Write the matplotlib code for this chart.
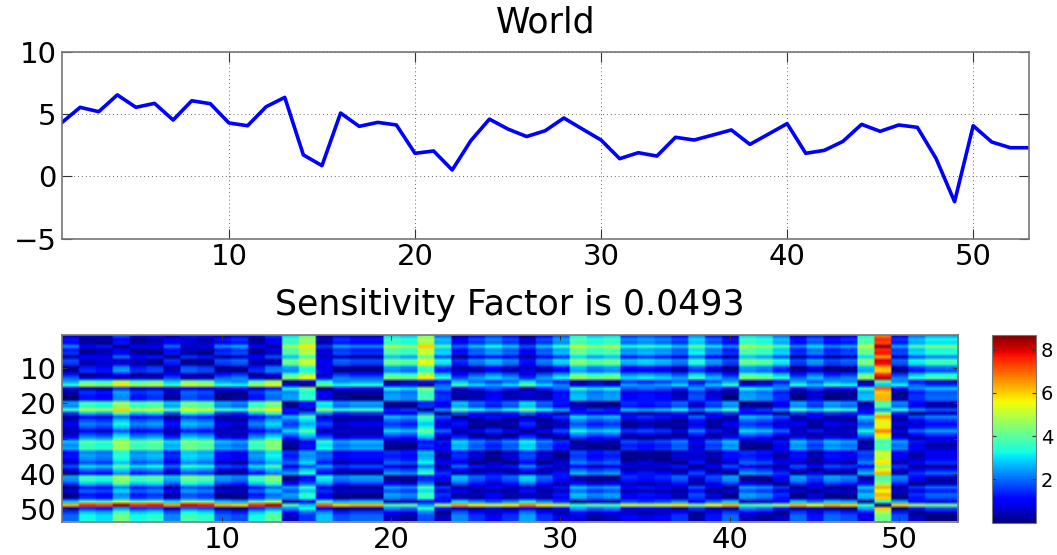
import matplotlib
matplotlib.use("Agg")
import matplotlib.pyplot as plt
import numpy as np

W, H = 1057, 555

world = [4.30, 5.55, 5.20, 6.55, 5.55, 5.87, 4.53, 6.08, 5.84, 4.29,
         4.07, 5.60, 6.35, 1.72, 0.86, 5.09, 4.02, 4.34, 4.13, 1.85,
         2.04, 0.51, 2.87, 4.60, 3.80, 3.20, 3.67, 4.69, 3.80, 2.92,
         1.42, 1.90, 1.63, 3.14, 2.92, 3.32, 3.73, 2.57, 3.40, 4.24,
         1.85, 2.09, 2.81, 4.18, 3.62, 4.13, 3.94, 1.45, -2.04, 4.07,
         2.76, 2.30, 2.30]

# heatmap cells, one base-36 char per cell, in quarter units
sensitivity_rows = [
    "2327341542336cg1322cbh81464047dbc6764952cb82523dr38aa",
    "5014014215603fj2655fekb479737agef9a97c85feb5856gu6bdd",
    "4105123324514ei1544edja3686269fde8986b74eda4745ft5acc",
    "9450438239a41jn6a99jiof8bdb7bekijdedbgc9jif9c9akyafhh",
    "5014014215603fj2655fekb479737agef9a97c85feb5856gu6bdd",
    "6123105106712gk3766gflc58a848bhfgaba8d96gfc6967hv7cee",
    "1438450651247bf2211bag70353136cab5653841ba71412cq2799",
    "7232216017821hl4877hgmd69b959cighbcb9ea7hgd7a78iw8dff",
    "6123105106712gk3766gflc58a848bhfgaba8d96gfc6967hv7cee",
    "0549561760158ae3100a9f61242225b9a4542730a960301bp1688",
    "165a6728710699d401198e52131314a8934316219851210ao0577",
    "5014014215603fj2655fekb479737agef9a97c85feb5856gu6bdd",
    "8341327128930im5988ihne7aca6adjhicdcafb8ihe8b89jx9egg",
    "afejfgbhga9fi04d9aa0154b868c85110656837a014a7a91f9422",
    "ejinjkflkedjm40hdee4518fcacgc9354a9ac7be458ebed3bd866",
    "3216232433425dh0433dci92575158ecd7875a63dc93634es49bb",
    "165a6728710699d401198e52131314a8934316219851210ao0577",
    "0549561760158ae3100a9f61242225b9a4542730a960301bp1688",
    "0549561760158ae3100a9f61242225b9a4542730a960301bp1688",
    "afejfgbhga9fi04d9aa0154b868c85110656837a014a7a91f9422",
    "9ediefagf98eh15c8991063a757b74201545726910396982g8311",
    "fkjoklgmlfekn51ieff5609gdbdhda465babd8cf569fcfe4ae977",
    "6bafbc7dc65be48956643907424841534212413643063655j5022",
    "1438450651247bf2211bag70353136cab5653841ba71412cq2799",
    "276b78398217a8c512287d43020403978232051287421219n1466",
    "498d9a5ba439c6a734465b25202621756010231465241437l3244",
    "276b78398217a8c512287d43020403978232051287421219n1466",
    "2327341542336cg1322cbh81464047dbc6764952cb82523dr38aa",
    "276b78398217a8c512287d43020403978232051287421219n1466",
    "5a9eab6cb54ad59845554a16313730645101322554152546k4133",
    "bgfkghcihbagj13eabb1245c979d96021767948b125b8ba0ea533",
    "9ediefagf98eh15c8991063a757b74201545726910396982g8311",
    "afejfgbhga9fi04d9aa0154b868c85110656837a014a7a91f9422",
    "498d9a5ba439c6a734465b25202621756010231465241437l3244",
    "5a9eab6cb54ad59845554a16313730645101322554152546k4133",
    "498d9a5ba439c6a734465b25202621756010231465241437l3244",
    "276b78398217a8c512287d43020403978232051287421219n1466",
    "7cbgcd8ed76cf37a67732818535952423323504732174764i6111",
    "387c894a9328b7b623376c34111512867121140376330328m2355",
    "0549561760158ae3100a9f61242225b9a4542730a960301bp1688",
    "afejfgbhga9fi04d9aa0154b868c85110656837a014a7a91f9422",
    "9ediefagf98eh15c8991063a757b74201545726910396982g8311",
    "6bafbc7dc65be48956643907424841534212413643063655j5022",
    "0549561760158ae3100a9f61242225b9a4542730a960301bp1688",
    "387c894a9328b7b623376c34111512867121140376330328m2355",
    "0549561760158ae3100a9f61242225b9a4542730a960301bp1688",
    "165a6728710699d401198e52131314a8934316219851210ao0577",
    "bgfkghcihbagj13eabb1245c979d96021767948b125b8ba0ea533",
    "putyuvqwvpouxfbsoppfgajqnlnrnkegflklnimpfgjpmpoe0ojhh",
    "165a6728710699d401198e52131314a8934316219851210ao0577",
    "6bafbc7dc65be48956643907424841534212413643063655j5022",
    "8dchde9fe87dg26b78821729646a63312434615821285873h7200",
    "8dchde9fe87dg26b78821729646a63312434615821285873h7200",
]

x_ticks = [10, 20, 30, 40, 50]
world_y_ticks = [-5, 0, 5, 10]
heat_y_ticks = [10, 20, 30, 40, 50]
cbar_ticks = [2, 4, 6, 8]


def axes_px(left, top, right, bottom):
    return fig.add_axes([left / W, 1 - bottom / H, (right - left) / W, (bottom - top) / H])


def style(ax, length):
    ax.tick_params(direction="in", length=length, width=0.8, color="#333333",
                   top=True, right=True, labelsize=21)
    for s in ax.spines.values():
        s.set_color("#777777")
        s.set_linewidth(1.2)


plt.rcParams["font.family"] = ["DejaVu Sans"]
fig = plt.figure(figsize=(W / 100, H / 100), dpi=100)

ax = axes_px(61.5, 52, 1029, 238.5)
days = np.arange(1, len(world) + 1)
ax.plot(days, world, color="#0000ff", lw=2.6)
ax.set_xlim(1, 53)
ax.set_ylim(-5, 10)
ax.set_xticks(x_ticks)
ax.set_yticks(world_y_ticks)
ax.set_yticklabels(["\u22125", "0", "5", "10"])
ax.grid(True, linestyle=(0, (1, 3)), linewidth=0.7, color="#666666")
style(ax, 7)
ax.tick_params(axis="x", pad=3)
ax.set_title("World", fontsize=25, pad=14)

matrix = np.array([[int(c, 36) * 0.25 for c in row] for row in sensitivity_rows])

ax2 = axes_px(61.5, 334.5, 958, 521.5)
# repeated along x so that only the rows get smoothed, the source picture is blurred that way
im = ax2.imshow(np.repeat(matrix, 8, axis=1), cmap="jet", vmin=0, vmax=8.68, aspect="auto",
                interpolation="bilinear", extent=(0.5, 53.5, 53.5, 0.5))
ax2.set_xticks(x_ticks)
ax2.set_yticks(heat_y_ticks)
style(ax2, 3.5)
ax2.tick_params(axis="x", pad=3)
ax2.set_title("Sensitivity Factor is 0.0493", fontsize=25, pad=14)

cax = axes_px(992, 335, 1036, 522.5)
cb = fig.colorbar(im, cax=cax)
cb.set_ticks(cbar_ticks)
cax.tick_params(direction="in", length=3, width=0.8, left=True, right=True, labelsize=14, color="#333333")
cb.outline.set_edgecolor("#777777")

fig.savefig("out.png", dpi=100)
